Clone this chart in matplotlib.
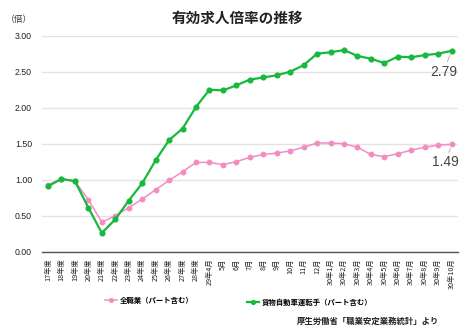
import matplotlib
matplotlib.use("Agg")
import matplotlib.pyplot as plt

plt.rcParams['font.family'] = ['Noto Sans CJK JP', 'DejaVu Sans']

# 期間ラベル（年度 → 月次）
periods = ['17年度', '18年度', '19年度', '20年度', '21年度', '22年度', '23年度',
           '24年度', '25年度', '26年度', '27年度', '28年度',
           '29年4月', '5月', '6月', '7月', '8月', '9月', '10月', '11月', '12月',
           '30年1月', '30年2月', '30年3月', '30年4月', '30年5月', '30年6月',
           '30年7月', '30年8月', '30年9月', '30年10月']

# 全職業（パート含む）
all_jobs = [0.93, 1.01, 0.98, 0.72, 0.41, 0.50, 0.61, 0.73, 0.86, 0.99, 1.11, 1.24,
            1.24, 1.21, 1.25, 1.31, 1.35, 1.37, 1.40, 1.45, 1.51,
            1.51, 1.50, 1.45, 1.35, 1.32, 1.36, 1.41, 1.45, 1.48, 1.49]

# 貨物自動車運転手（パート含む）
truck_drivers = [0.91, 1.01, 0.98, 0.61, 0.26, 0.45, 0.71, 0.95, 1.27, 1.55, 1.71, 2.01,
                 2.25, 2.24, 2.31, 2.39, 2.42, 2.45, 2.50, 2.59, 2.75,
                 2.77, 2.80, 2.72, 2.68, 2.62, 2.71, 2.70, 2.73, 2.75, 2.79]

y_ticks = [0.0, 0.5, 1.0, 1.5, 2.0, 2.5, 3.0]

pink = '#f28cc3'
green = '#17b93c'

fig = plt.figure(figsize=(4.74, 3.29), dpi=100)
ax = fig.add_axes([0.088, 0.235, 0.878, 0.6565])

x = list(range(len(periods)))
l1, = ax.plot(x, all_jobs, color=pink, lw=1.1, marker='o', ms=3.2, zorder=3)
l2, = ax.plot(x, truck_drivers, color=green, lw=1.6, marker='o', ms=3.4, zorder=4)

ax.set_xlim(-0.47, len(periods) - 1 + 0.47)
ax.set_ylim(0, 3.0)
ax.set_yticks(y_ticks)
ax.set_yticklabels([f'{v:.2f}' for v in y_ticks], family='Liberation Sans', fontsize=6.3)
ax.set_xticks(x)
ax.set_xticklabels(periods, rotation=90, fontsize=5.2, va='top')
ax.tick_params(axis='both', length=0, colors='#222222')
ax.tick_params(axis='y', pad=7)
ax.tick_params(axis='x', pad=5)

ax.grid(axis='y', color='#e3e3e3', lw=1.0, zorder=0)
ax.set_axisbelow(True)
for s in ['left', 'right', 'top']:
    ax.spines[s].set_visible(False)
ax.spines['bottom'].set_color('#555555')
ax.spines['bottom'].set_linewidth(1.0)

# 最新値のラベル
ax.annotate(f'{truck_drivers[-1]:.2f}', xy=(x[-1], truck_drivers[-1]),
            xytext=(-8, -21), textcoords='offset pixels', ha='center', va='center',
            fontsize=10, family='Liberation Sans', color='#444444',
            arrowprops=dict(arrowstyle='-', color='#aaaaaa', lw=0.6, shrinkA=0, shrinkB=3))
ax.annotate(f'{all_jobs[-1]:.2f}', xy=(x[-1], all_jobs[-1]),
            xytext=(-6, -18), textcoords='offset pixels', ha='center', va='center',
            fontsize=10, family='Liberation Sans', color='#444444',
            arrowprops=dict(arrowstyle='-', color='#aaaaaa', lw=0.6, shrinkA=0, shrinkB=3))

fig.text(0.5, 0.945, '有効求人倍率の推移', ha='center', va='center',
         fontsize=10.5, fontweight='bold', color='#222222')
fig.text(0.012, 0.94, '（倍）', ha='left', va='center', fontsize=6.3, color='#333333')

# 凡例は系列ごとに配置
leg_kw = dict(loc='center left', frameon=False, handlelength=1.7,
              prop={'size': 5.3, 'weight': 'bold'},
              handletextpad=0.3, borderpad=0, borderaxespad=0, markerscale=0.8)
fig.legend([l1], ['全職業（パート含む）'], bbox_to_anchor=(0.221, 0.088), **leg_kw)
fig.legend([l2], ['貨物自動車運転手（パート含む）'], bbox_to_anchor=(0.521, 0.082), **leg_kw)

fig.text(0.927, 0.022, '厚生労働省「職業安定業務統計」より', ha='right', va='center',
         fontsize=6.0, fontweight='bold', color='#222222')

fig.savefig('out.png', dpi=100)
